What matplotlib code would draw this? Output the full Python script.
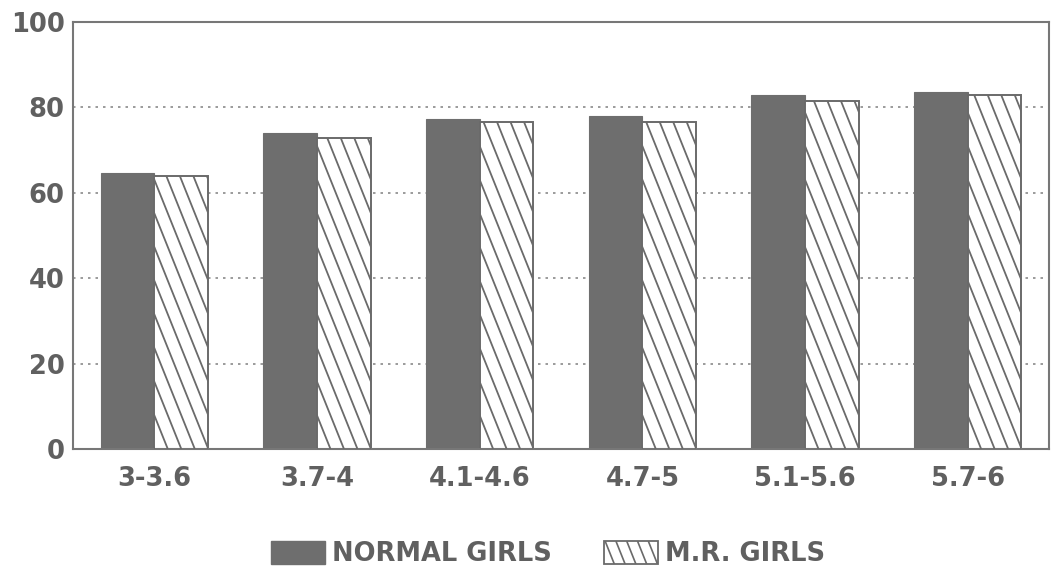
import numpy as np
import matplotlib
matplotlib.use("Agg")
import matplotlib.pyplot as plt
from matplotlib.patches import Patch, Rectangle
from matplotlib.collections import LineCollection

AGE_GROUPS = ["3-3.6", "3.7-4", "4.1-4.6", "4.7-5", "5.1-5.6", "5.7-6"]
NORMAL_GIRLS = [64.6, 74.0, 77.3, 77.9, 83.0, 83.7]
MR_GIRLS = [64.0, 72.8, 76.5, 76.7, 81.6, 82.9]

TEXT_GREY = "#606060"
BAR_GREY = "#6e6e6e"
EDGE_GREY = "#6a6a6a"

plt.rcParams["font.family"] = ["DejaVu Sans"]
plt.rcParams["font.weight"] = "bold"


class SteepHatchHandler:
    # legend box with the same steep diagonal lines as the bars
    def legend_artist(self, legend, orig_handle, fontsize, handlebox):
        x0, y0 = -handlebox.xdescent, -handlebox.ydescent
        w, h = handlebox.width, handlebox.height
        rect = Rectangle((x0, y0), w, h, facecolor="white",
                         edgecolor=EDGE_GREY, linewidth=1.3,
                         transform=handlebox.get_transform())
        handlebox.add_artist(rect)
        dx = h / 2.5
        step = w / 5.0
        segs = [[(s, y0 + h), (s + dx, y0)]
                for s in np.arange(x0 - dx + step, x0 + w, step)]
        lc = LineCollection(segs, colors=EDGE_GREY, linewidths=1.2,
                            transform=handlebox.get_transform())
        lc.set_clip_path(rect)
        handlebox.add_artist(lc)
        return rect


fig = plt.figure(figsize=(10.53, 5.72), dpi=100)
ax = fig.add_axes([0.0693, 0.215, 0.9269, 0.7465])

x = np.arange(len(AGE_GROUPS))
width = 0.33

ax.bar(x - width / 2, NORMAL_GIRLS, width, color=BAR_GREY,
       edgecolor=BAR_GREY, linewidth=0.8, zorder=2)
mr_bars = ax.bar(x + width / 2, MR_GIRLS, width, color="white",
                 edgecolor=EDGE_GREY, linewidth=1.4, zorder=2)

# steep diagonal hatch, clipped to each M.R. bar
slope = 95.0      # data units of y per x unit (about 2.5 px down per px right)
spacing = 0.083
for bar in mr_bars:
    x0 = bar.get_x()
    x1 = x0 + bar.get_width()
    h = bar.get_height()
    starts = np.arange(x0 - h / slope - spacing, x1 + spacing, spacing)
    segs = [[(s, h), (s + h / slope, 0)] for s in starts]
    lc = LineCollection(segs, colors=EDGE_GREY, linewidths=1.3, zorder=3)
    ax.add_collection(lc)
    lc.set_clip_path(bar)

ax.set_xlim(-0.5, len(AGE_GROUPS) - 0.5)
ax.set_ylim(0, 100)
ax.set_yticks([0, 20, 40, 60, 80, 100])
ax.set_xticks(x)
ax.set_xticklabels(AGE_GROUPS)

ax.yaxis.grid(True, linestyle=(0, (1.5, 3)), color="#8a8a8a", linewidth=1.2)
ax.set_axisbelow(True)
for spine in ax.spines.values():
    spine.set_color("#777777")
    spine.set_linewidth(1.5)

ax.tick_params(axis="both", length=0, labelsize=18.5, labelcolor=TEXT_GREY)
ax.tick_params(axis="y", pad=6)
ax.tick_params(axis="x", pad=12)

handles = [
    Patch(facecolor=BAR_GREY, edgecolor=BAR_GREY, label="NORMAL GIRLS"),
    Patch(facecolor="white", edgecolor=EDGE_GREY, label="M.R. GIRLS"),
]
fig.legend(handles=handles, loc="center", bbox_to_anchor=(0.5204, 0.031),
           ncol=2, frameon=False, fontsize=18.5, labelcolor=TEXT_GREY,
           handlelength=2.1, handleheight=1.0, columnspacing=2.0,
           handletextpad=0.3, borderpad=0.1,
           handler_map={handles[1]: SteepHatchHandler()})

fig.savefig("out.png", dpi=100)
